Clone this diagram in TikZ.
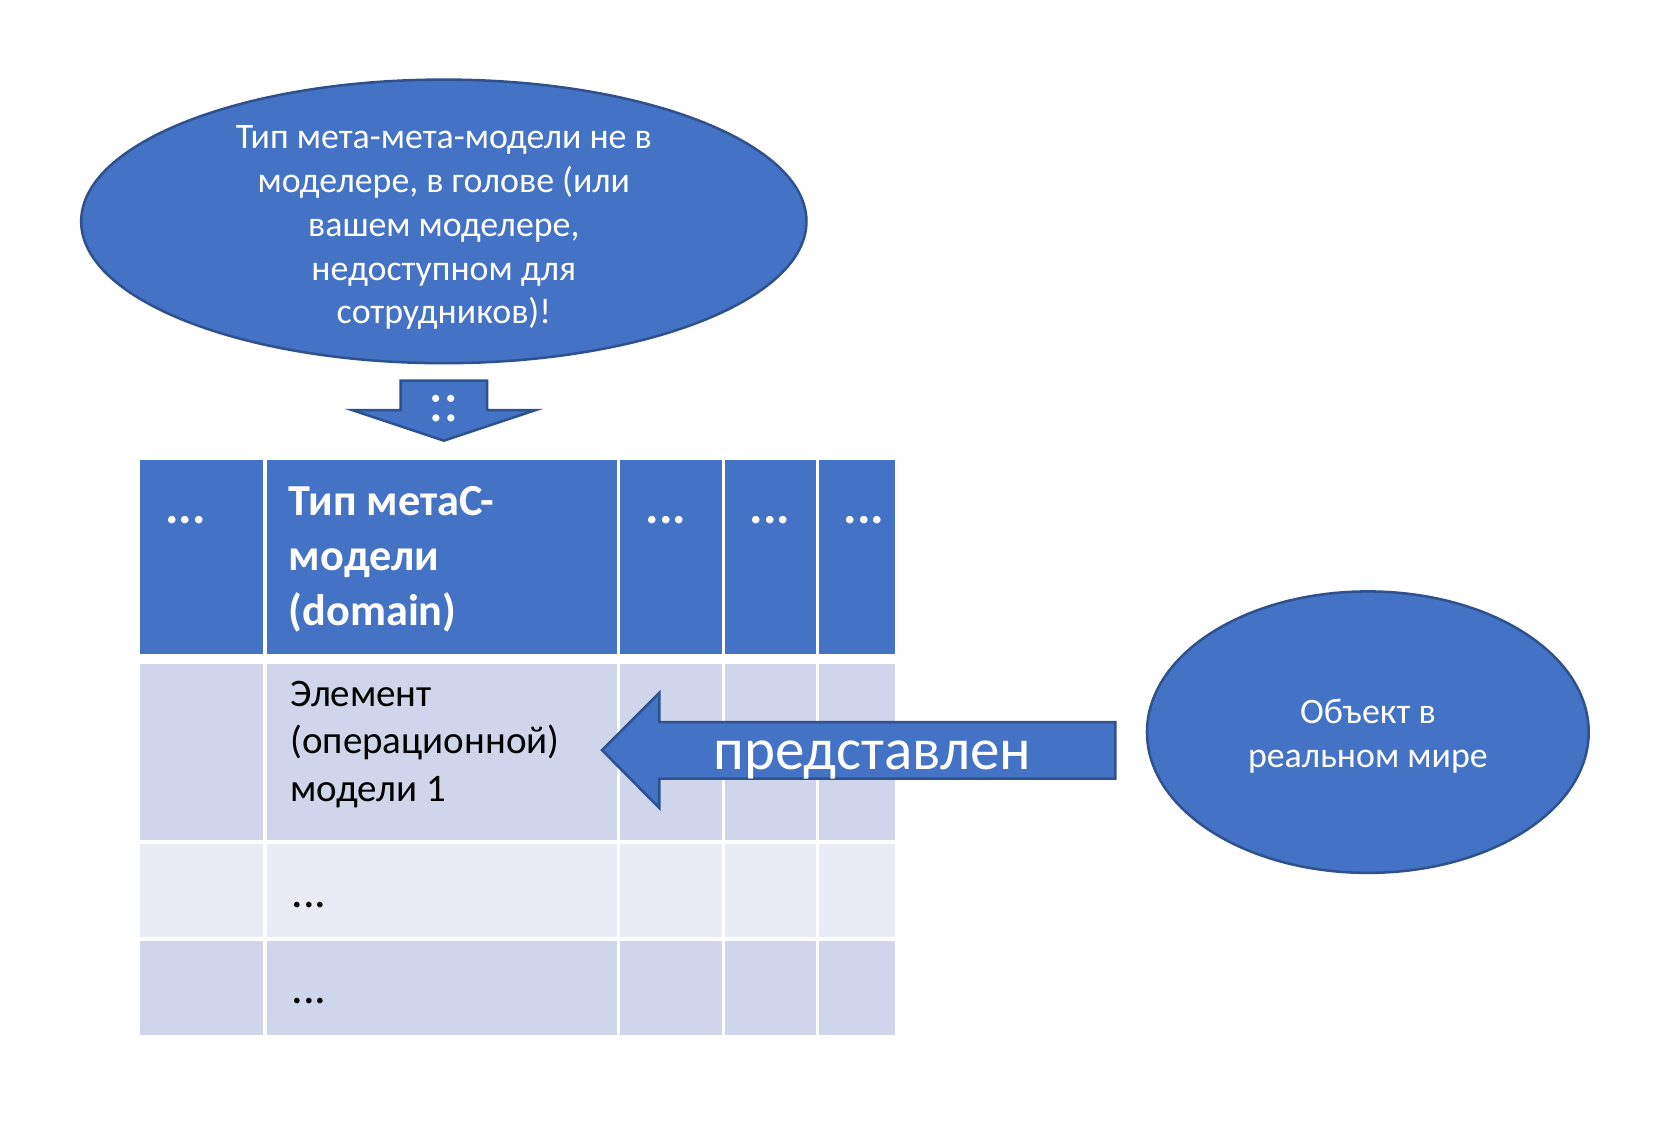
\documentclass[tikz,border=0pt]{standalone}
\usepackage{fontspec}
\setmainfont{Carlito}
\definecolor{accent}{HTML}{4472C4}
\definecolor{accentdark}{HTML}{2F528F}
\definecolor{rowdark}{HTML}{CFD5EA}
\definecolor{rowlight}{HTML}{E9EBF5}
\begin{document}
\begin{tikzpicture}[x=0.5pt, y=-0.5pt,
    blob/.style={fill=accent, draw=accentdark, line width=1.2pt},
    headtext/.style={text=white, inner sep=0, font=\fontsize{21}{26}\selectfont\bfseries},
    headdots/.style={text=white, inner sep=0, font=\fontsize{24}{26}\selectfont\bfseries},
    bodytext/.style={inner sep=0, font=\fontsize{18.5}{22.5}\selectfont},
    bodydots/.style={inner sep=0, font=\fontsize{22}{24}\selectfont},
    bubbletext/.style={text=white, inner sep=0, align=center, font=\fontsize{17}{20.75}\selectfont},
    arrowtext/.style={text=white, inner sep=0, font=\fontsize{28}{30}\selectfont}]
      \useasboundingbox (0,0) rectangle (1568,1066);

      \draw[blob] (421,210) ellipse (344 and 134.5);
      \node[bubbletext] (meta) at (421,216) {Тип мета-мета-модели не в\\моделере, в голове (или\\вашем моделере,\\недоступном для\\сотрудников)!};

      \draw[blob] (380,361) -- (462,361) -- (462,389) -- (508,389) -- (421,418) -- (334,389) -- (380,389) -- cycle;
      \node[arrowtext] (instof) at (421,388) {::};

      % table
      \fill[accent] (133,436) rectangle (849,620.7);
      \fill[rowdark] (133,630.2) rectangle (849,798.7);
      \fill[rowlight] (133,798.7) rectangle (849,890.8);
      \fill[rowdark] (133,890.8) rectangle (849,981.8);
      \foreach \x in {251.4,586.5,686.2,775.6}
        \draw[white, line width=1.6pt] (\x,436) -- (\x,981.8);
      \foreach \y in {798.7,890.8}
        \draw[white, line width=1.6pt] (133,\y) -- (849,\y);

      \node[headdots, anchor=base west] (h1) at (156.5,497) {...};
      \node[headtext, anchor=west, align=left] (domain) at (273.5,530.5) {Тип метаС-\\модели\\(domain)};
      \foreach \x/\n in {612/h3,711/h4,800/h5}
        \node[headdots, anchor=base west] (\n) at (\x,497) {...};

      \node[bodytext, anchor=west, align=left] (elem) at (275,706) {Элемент\\(операционной)\\модели 1};
      \node[bodydots, anchor=base west] (row2) at (276,861) {...};
      \node[bodydots, anchor=base west] (row3) at (276,952) {...};

      \draw[blob] (1058,685) -- (625.5,685) -- (625.5,657) -- (571,711.5) -- (625.5,766.5) -- (625.5,738.5) -- (1058,738.5) -- cycle;
      \node[arrowtext, anchor=base] (rep) at (827.5,729.8) {представлен};

      \draw[blob] (1297.5,694.5) ellipse (209.5 and 133.5);
      \node[bubbletext] (obj) at (1297.5,698) {Объект в\\реальном мире};
    \end{tikzpicture}
\end{document}
